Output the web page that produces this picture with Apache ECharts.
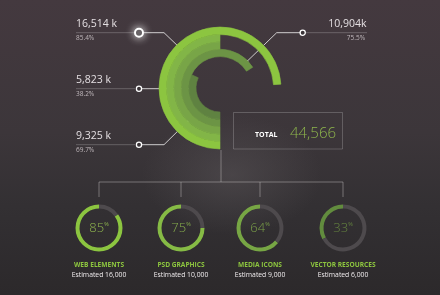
<!DOCTYPE html>
<html><head><meta charset="utf-8">
<script src="https://cdn.jsdelivr.net/npm/echarts/dist/echarts.min.js"></script>
<style>
html,body{margin:0;padding:0;width:440px;height:295px;overflow:hidden;}
body{background:
 radial-gradient(ellipse 90px 60px at 232px 175px, rgba(95,90,93,0.45), rgba(95,90,93,0) 100%),
 linear-gradient(180deg,#44393f 0%,#3c363a 45%,#333033 70%,#2c292b 100%);}
#c{width:440px;height:295px;}
</style>
</head><body><div id="c"></div>
<script>
// ---- data ----
// main radial rings, outer to inner: visible arc, % of a full turn, drawn clockwise from 6 o'clock
const ringNames = ['Ring 1','Ring 2','Ring 3','Ring 4','Ring 5'];
const ringArcs = [74, 50, 50, 66, 32];
// callouts
const calloutValues = ['16,514 k','5,823 k','9,325 k','10,904k'];
const calloutPercents = ['85.4%','38.2%','69.7%','75.5%'];
const totalLabel = 'TOTAL';
const totalValue = '44,566';
// bottom gauges
const gaugeNames = ['WEB ELEMENTS','PSD GRAPHICS','MEDIA ICONS','VECTOR RESOURCES'];
const gaugePercents = [85, 75, 64, 33];
const gaugeEstimates = ['Estimated 16,000','Estimated 10,000','Estimated 9,000','Estimated 6,000'];

// ---- styles / layout ----
const ringColors = ['#8cc540','#82b547','#78a547','#6c9445','#5f8241'];
const gaugeColors = ['#8cc540','#86bb45','#77a644','#628c3e'];
const gaugeTextColors = ['#8fb64e','#86ad4c','#7a9f48','#65853f'];
const gaugeX = [99, 181, 260, 343];
const gaugeY = 228;
const FONT = 'Open Sans';

const chart = echarts.init(document.getElementById('c'), null, {renderer:'canvas'});

const ringData = ringArcs.map((v,i)=>({name:ringNames[i], value:v,
  itemStyle:{color:ringColors[i], borderWidth:0.6, borderColor:ringColors[i]}})).reverse();

const series = [{
  type:'bar', coordinateSystem:'polar', barCategoryGap:'0%', silent:true,
  data: ringData, animation:false
}];

gaugePercents.forEach((p,i)=>{
  series.push({
    type:'pie', center:[gaugeX[i], gaugeY], radius:[19.5,23.5], startAngle:90, clockwise:false,
    silent:true, animation:false, labelLine:{show:false},
    itemStyle:{borderWidth:0},
    data:[
      {value:p, name:gaugeNames[i], itemStyle:{color:gaugeColors[i]},
       label:{show:true, position:'center', formatter:'{a|'+p+'}{b|%}',
         rich:{a:{fontSize:13, fontFamily:FONT, fontWeight:300, color:gaugeTextColors[i], lineHeight:16},
               b:{fontSize:5.5, fontFamily:FONT, color:gaugeTextColors[i], verticalAlign:'top', padding:[1,0,0,0]}}}},
      {value:100-p, name:'rest', itemStyle:{color:'#4e4a4d'}, label:{show:false}}
    ]
  });
});

const faint = 'rgba(255,255,255,0.22)';
const bright = 'rgba(255,255,255,0.75)';
const treeC = 'rgba(200,195,198,0.45)';
const g = [];
function line(pts, color, w){ g.push({type:'polyline', shape:{points:pts}, style:{stroke:color, lineWidth:w||1, fill:null}, silent:true}); }
function text(x,y,t,size,color,align,weight){ g.push({type:'text', x:x, y:y, style:{text:t, fontSize:size, fontFamily:FONT, fill:color, align:align||'left', verticalAlign:'middle', fontWeight:weight||'normal'}, silent:true}); }
function ring(x,y,r,w,glow){ g.push({type:'circle', shape:{cx:x,cy:y,r:r}, style:{fill:'#3a3438', stroke:'#ffffff', lineWidth:w, shadowBlur:glow?8:0, shadowColor:glow?'rgba(255,255,255,0.9)':'transparent'}, silent:true}); }
function dot(x,y){ g.push({type:'circle', shape:{cx:x,cy:y,r:1.6}, style:{fill:'#ffffff'}, silent:true}); }

// left callouts
const leftY = [32.7, 88.7, 144.7];
const leftEnds = [[[164,32.7],[181,49]], [[193,88.7]], [[164,144.7],[188,121]]];
leftY.forEach((y,i)=>{
  line([[76,y],[135,y]], faint, 1);
  line([[139,y]].concat(leftEnds[i]), bright, 1);
  const e = leftEnds[i][leftEnds[i].length-1];
  dot(e[0], e[1]);
  ring(139, y, i===0?4:2.6, i===0?2:1.3, i===0);
  text(76, y-8.5, calloutValues[i], 10.5, '#e4dfe2');
  text(76, y+5.8, calloutPercents[i], 6.5, '#bfb7bb');
});
// right callout
line([[306,32.7],[367,32.7]], faint, 1);
line([[302.7,32.7],[276.7,32.7],[246.7,61.7]], bright, 1);
dot(246.7,61.7);
ring(302.7,32.7,2.6,1.3,false);
text(366.5, 24.3, calloutValues[3], 10.5, '#e4dfe2', 'right');
text(365, 38.4, calloutPercents[3], 6.5, '#bfb7bb', 'right');

// total box
g.push({type:'rect', shape:{x:233.5,y:112.5,width:109,height:36.5}, style:{fill:null, stroke:'rgba(255,255,255,0.2)', lineWidth:1}, silent:true});
text(255, 134.5, totalLabel, 7, '#ffffff', 'left', 'bold');
text(290, 133.5, totalValue, 15, '#8db54c', 'left', 300);

// tree
line([[221,150],[221,182]], treeC, 1);
line([[99,182],[343,182]], treeC, 1);
gaugeX.forEach(x=>line([[x,182],[x,197]], treeC, 1));

// gauge labels
gaugeX.forEach((x,i)=>{
  text(x, 265.5, gaugeNames[i], 6.6, '#8dc63f', 'center', 'bold');
  text(x, 275.5, gaugeEstimates[i], 6.8, '#f0ecee', 'center');
});

chart.setOption({
  backgroundColor:'transparent',
  animation:false,
  polar:{center:[220,88], radius:[24,61]},
  angleAxis:{type:'value', min:0, max:100, startAngle:270, clockwise:true, show:false},
  radiusAxis:{type:'category', data:ringNames.slice().reverse(), show:false},
  series: series,
  graphic: g
});
</script>
</body></html>
